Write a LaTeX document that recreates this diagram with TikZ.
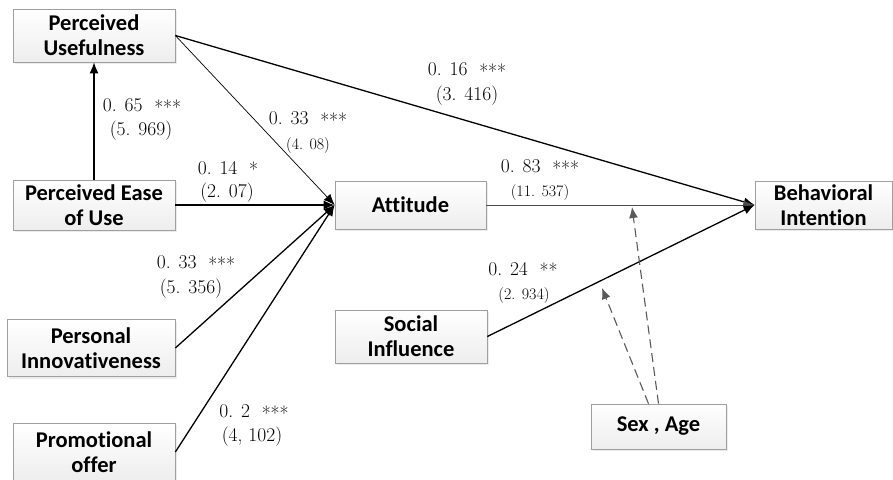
\documentclass[tikz,border=0pt]{standalone}
\usepackage{fontspec}
\newfontfamily\boxfont[Ligatures=NoCommon]{Carlito}
\usepackage{tikz}
\usetikzlibrary{shadows}
\usetikzlibrary{arrows.meta}
\tikzstyle{box}=[draw=gray!75, line width=0.7pt, top color=white, bottom color=gray!14, drop shadow={shadow xshift=2pt, shadow yshift=-2pt, fill=gray!30}, font=\boxfont\bfseries\fontsize{22.5}{25}\selectfont, align=center, inner sep=0pt]
\tikzstyle{coef}=[font=\fontsize{19.5}{21}\selectfont, inner sep=0pt]
\tikzstyle{tval}=[font=\fontsize{16}{18}\selectfont, inner sep=0pt]
\tikzstyle{link}=[-{Latex[length=11pt,width=9pt]}, line width=1.3pt]
\tikzstyle{thin link}=[link, line width=0.7pt]
\tikzstyle{grey link}=[link, line width=1pt, draw=black!70]
\tikzstyle{moderator}=[-{Latex[length=11pt,width=9pt]}, dash pattern=on 9pt off 5pt, line width=1.1pt, black!65]
\newcommand{\sig}[1]{\raisebox{-0.35ex}{#1}}

\begin{document}
\begin{tikzpicture}[x=1pt, y=-1pt]
    \useasboundingbox (0,0) rectangle (893,479);

    \foreach \pos/\name/\w/\h/\txt in {{(94,35.5)/pu/162/53/Perceived\\Usefulness}, {(94,205)/peou/162/50/Perceived Ease\\of Use}, {(91,348)/pi/168/57/Personal\\Innovativeness}, {(94,452)/po/162/58/Promotional\\offer}, {(410.5,205)/att/151/48/Attitude}, {(411,336.5)/si/152/53/Social\\Influence}, {(823.5,205)/bi/137/48/Behavioral\\Intention}, {(658.5,426.5)/sa/135/45/Sex , Age}}
        \node[box, minimum width=\w pt, minimum height=\h pt] (\name) at \pos {\txt};

    \foreach \source/\dest/\sty in {peou.north/pu.south/link, pu.east/att.west/thin link, peou.east/att.west/link, pi.east/att.west/link, po.east/att.west/link, pu.east/bi.west/link, att.east/bi.west/grey link, si.east/bi.west/link}
        \draw[\sty] (\source) -- (\dest);

%moderation
    \coordinate (mab) at (632,207);
    \coordinate (msb) at (602,288);
    \draw[moderator] ([xshift=-10pt]sa.north) -- (msb);
    \draw[moderator] (sa.north) -- (mab);

%coefficients
    \foreach \pos/\name/\txt in {{(142,107)/cpu/0. 65~~\sig{***}}, {(141,131)/tpu/(5. 969)}, {(308,120)/cpa/0. 33~~\sig{***}}, {(228,169)/cea/0. 14~~\sig{*}}, {(227,193)/tea/(2. 07)}, {(467,71)/cpb/0. 16~~\sig{***}}, {(467,96)/tpb/(3. 416)}, {(540,168)/cab/0. 83~~\sig{***}}, {(523,270)/csb/0. 24~~\sig{**}}, {(196,264)/cia/0. 33~~\sig{***}}, {(191,289)/tia/(5. 356)}, {(254,413)/coa/0. 2~~\sig{***}}, {(252,437)/toa/(4, 102)}}
        \node[coef] (\name) at \pos {\txt};
    \foreach \pos/\name/\txt in {{(308,146)/tpa/(4. 08)}, {(540,193)/tab/(11. 537)}, {(524,296)/tsb/(2. 934)}}
        \node[tval] (\name) at \pos {\txt};

\end{tikzpicture}
\end{document}
